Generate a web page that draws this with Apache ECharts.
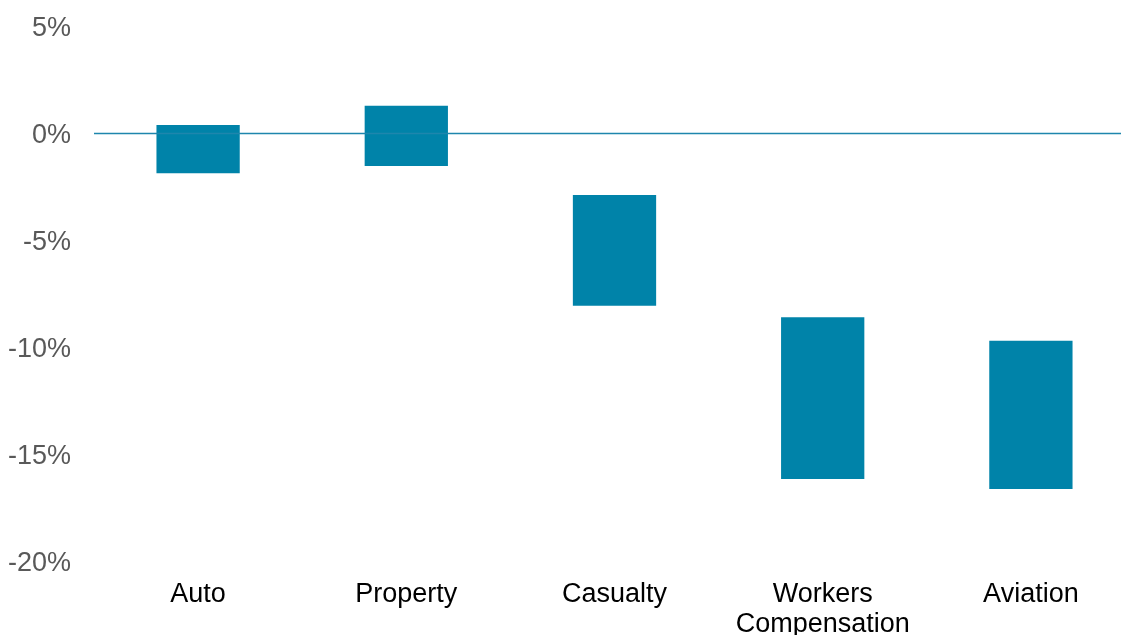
<!DOCTYPE html>
<html>
<head>
<meta charset="utf-8">
<script src="https://cdn.jsdelivr.net/npm/echarts@6/dist/echarts.min.js"></script>
<style>
html,body{margin:0;padding:0;background:#fff;}
#chart{width:1121px;height:635px;}
</style>
</head>
<body>
<div id="chart"></div>
<script>
const categories = ['Auto', 'Property', 'Casualty', 'Workers\nCompensation', 'Aviation'];
const lowValues = [-1.86, -1.52, -8.05, -16.14, -16.61];
const highValues = [0.40, 1.30, -2.87, -8.59, -9.68];
const yTicks = [-20, -15, -10, -5, 0, 5];

const spans = highValues.map((h, i) => +(h - lowValues[i]).toFixed(2));
const barColor = '#0083A9';

const chart = echarts.init(document.getElementById('chart'), null, {renderer: 'canvas'});
chart.setOption({
  backgroundColor: '#ffffff',
  animation: false,
  grid: {left: 94, width: 1041, top: 26.5, bottom: 73.5, containLabel: false, outerBoundsMode: 'none'},
  xAxis: {
    type: 'category',
    data: categories,
    axisLine: {show: false, onZero: false},
    axisTick: {show: false},
    axisLabel: {
      color: '#000000',
      fontFamily: 'Liberation Sans, Arial, sans-serif',
      fontSize: 27,
      lineHeight: 30,
      margin: 18,
      interval: 0
    },
    splitLine: {show: false}
  },
  yAxis: {
    type: 'value',
    min: yTicks[0],
    max: yTicks[yTicks.length - 1],
    interval: 5,
    axisLine: {show: false},
    axisTick: {show: false},
    splitLine: {show: false},
    axisLabel: {
      color: '#595959',
      fontFamily: 'Liberation Sans, Arial, sans-serif',
      fontSize: 27,
      margin: 23,
      verticalAlign: 'top',
      lineHeight: 4,
      formatter: v => v + '%'
    }
  },
  series: [
    {
      type: 'bar',
      stack: 'range',
      stackStrategy: 'all',
      data: lowValues,
      barWidth: '40%',
      itemStyle: {color: 'transparent'},
      silent: true,
      markLine: {
        silent: true,
        symbol: ['none', 'none'],
        label: {show: false},
        lineStyle: {color: '#1E86AD', width: 1.3, type: 'solid'},
        data: [{yAxis: 0}]
      }
    },
    {
      type: 'bar',
      stack: 'range',
      stackStrategy: 'all',
      data: spans,
      barWidth: '40%',
      itemStyle: {color: barColor}
    }
  ]
});
</script>
</body>
</html>
